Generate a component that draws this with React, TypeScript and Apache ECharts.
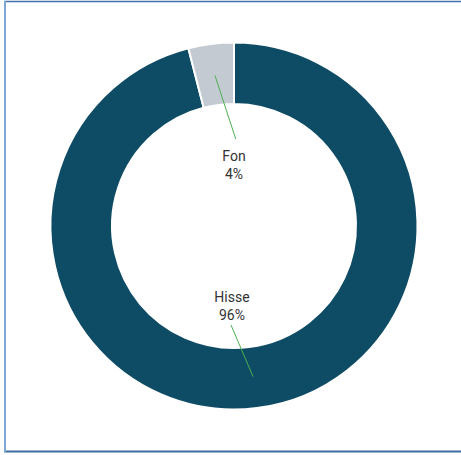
import React, { useEffect, useRef } from "react";
import * as echarts from "echarts";

const categories = ["Hisse", "Fon"];
const values = [96, 4];
const colors = ["#0e4b65", "#c3cad1"];

const CX = 234;
const CY = 226;
const R_IN = 122;
const R_OUT = 183.5;

export default function App() {
  const ref = useRef<HTMLDivElement>(null);
  useEffect(() => {
    document.body.style.margin = "0";
    if (!ref.current) return;
    const chart = echarts.init(ref.current, undefined, { renderer: "svg" });
    const total = values.reduce((a, b) => a + b, 0);
    const midAngles: number[] = [];
    let acc = 0;
    values.forEach((v) => {
      const mid = 90 - ((acc + v / 2) / total) * 360;
      midAngles.push((mid * Math.PI) / 180);
      acc += v;
    });

    chart.setOption({
      animation: false,
      backgroundColor: "#ffffff",
      graphic: [
        { type: "line", shape: { x1: 4, y1: 1.5, x2: 461, y2: 1.5 }, style: { stroke: "#4472a8", lineWidth: 1.5 }, silent: true },
        { type: "line", shape: { x1: 4, y1: 451.5, x2: 461, y2: 451.5 }, style: { stroke: "#3a6a9e", lineWidth: 2 }, silent: true },
        { type: "line", shape: { x1: 5, y1: 1, x2: 5, y2: 452 }, style: { stroke: "#7ea6d6", lineWidth: 2 }, silent: true },
      ],
      series: [
        {
          type: "pie",
          center: [CX, CY],
          radius: [R_IN, R_OUT],
          startAngle: 90,
          clockwise: true,
          label: { show: false },
          labelLine: { show: false },
          silent: true,
          itemStyle: { borderColor: "#ffffff", borderWidth: 2 },
          data: categories.map((c, i) => ({ name: c, value: values[i], itemStyle: { color: colors[i] } })),
        },
        {
          type: "custom",
          coordinateSystem: "none",
          z: 10,
          silent: true,
          data: values.map((v, i) => [v, i]),
          renderItem: (params: any) => {
            const i = params.dataIndex;
            const a = midAngles[i];
            const rMid = (R_IN + R_OUT) / 2 - 1;
            const sx = CX + Math.cos(a) * rMid;
            const sy = CY - Math.sin(a) * rMid;
            const up = Math.sin(a) > 0;
            const ex = CX - Math.cos(a) * (up ? 14 : 24);
            const ey = up ? CY - 87 : CY + 99;
            const lx = CX - Math.cos(a) * (up ? 0 : 16);
            const ly = up ? CY - 61.5 : CY + 80;
            const pct = Math.round((values[i] / total) * 100);
            return {
              type: "group",
              children: [
                {
                  type: "line",
                  shape: { x1: sx, y1: sy, x2: ex, y2: ey },
                  style: { stroke: "#4caf50", lineWidth: 1 },
                },
                {
                  type: "text",
                  x: lx,
                  y: ly,
                  style: {
                    text: categories[i] + "\n" + pct + "%",
                    fill: "#333333",
                    font: "14px Roboto, sans-serif",
                    lineHeight: 18,
                    align: "center",
                    verticalAlign: "middle",
                  },
                },
              ],
            };
          },
        },
      ],
    });
    return () => chart.dispose();
  }, []);
  return <div ref={ref} style={{ width: 461, height: 455 }} />;
}
